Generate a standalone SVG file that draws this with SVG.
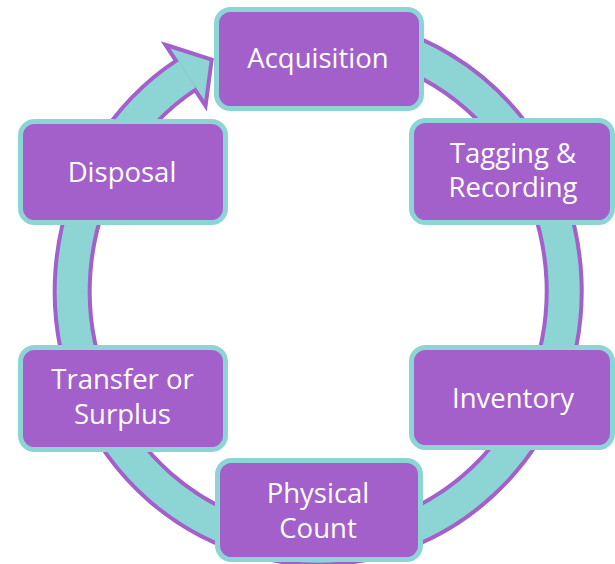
<svg xmlns="http://www.w3.org/2000/svg" width="615" height="564" viewBox="0 0 615 564">
  <style>
    .box { fill: #A460CA; stroke: #8DD4D4; stroke-width: 5; }
    .lbl { font-family: "Open Sans", "Noto Sans", sans-serif; font-size: 27.5px; fill: #FFFFFF; text-anchor: middle; }
    .ringOuter { fill: none; stroke: #A460CA; stroke-width: 39; }
    .ringInner { fill: none; stroke: #8DD4D4; stroke-width: 31; }
  </style>
  <rect width="615" height="564" fill="#FFFFFF"/>
  <g id="connectors">
    <path class="ringOuter" d="M 339.4 36 A 246 256 0 1 1 187.3 74.3"/>
    <polygon points="170.3,48.4 209.5,61 204.3,100.2" fill="#A460CA" stroke="#A460CA" stroke-width="8" stroke-linejoin="miter"/>
    <path class="ringInner" d="M 339.4 36 A 246 256 0 1 1 187.3 74.3"/>
    <polygon points="170.3,48.4 209.5,61 204.3,100.2" fill="#8DD4D4"/>
  </g>
  <g id="acquisition">
    <rect class="box" x="216.5" y="9.5" width="205" height="99" rx="14"/>
    <text class="lbl" x="318" y="68">Acquisition</text>
  </g>
  <g id="tagging">
    <rect class="box" x="411.5" y="120.5" width="201" height="102" rx="14"/>
    <text class="lbl" x="513" y="163">Tagging &amp;</text>
    <text class="lbl" x="513" y="196.5">Recording</text>
  </g>
  <g id="inventory">
    <rect class="box" x="411.5" y="347.5" width="201" height="100" rx="14"/>
    <text class="lbl" x="513" y="408">Inventory</text>
  </g>
  <g id="physical">
    <rect class="box" x="217.5" y="460.5" width="203" height="99" rx="14"/>
    <text class="lbl" x="318" y="503">Physical</text>
    <text class="lbl" x="318" y="537.5">Count</text>
  </g>
  <g id="transfer">
    <rect class="box" x="20.5" y="347.5" width="205" height="102" rx="14"/>
    <text class="lbl" x="122.5" y="389">Transfer or</text>
    <text class="lbl" x="122.5" y="424">Surplus</text>
  </g>
  <g id="disposal">
    <rect class="box" x="20.5" y="121.5" width="205" height="101" rx="14"/>
    <text class="lbl" x="122" y="181.5">Disposal</text>
  </g>
</svg>
